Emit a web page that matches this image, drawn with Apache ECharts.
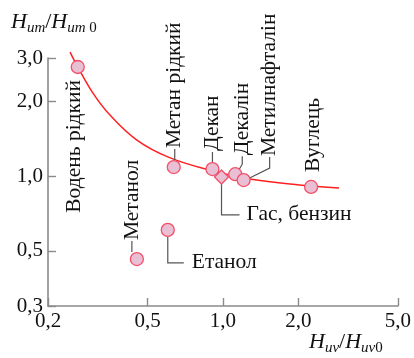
<!DOCTYPE html>
<html><head><meta charset="utf-8">
<script src="https://cdn.jsdelivr.net/npm/echarts@6/dist/echarts.min.js"></script>
<style>html,body{margin:0;padding:0;background:#fff}#c{width:414px;height:358px}</style>
</head><body><div id="c"></div>
<script>
// ---- data ----
const substances = ['Водень рідкий','Метанол','Етанол','Метан рідкий','Декан','Гас, бензин','Декалін','Метилнафталін','Вуглець'];
const xValues = [0.263, 0.453, 0.602, 0.636, 0.908, 0.987, 1.12, 1.21, 2.25];
const yValues = [2.76, 0.464, 0.608, 1.09, 1.07, 0.994, 1.02, 0.966, 0.906];
const curveX = [0.245, 0.263, 0.302, 0.353, 0.453, 0.612, 0.917, 1.28, 2.02, 2.91];
const curveY = [3.17, 2.76, 2.17, 1.77, 1.40, 1.19, 1.05, 0.975, 0.923, 0.897];
const xTicks = [0.2, 0.5, 1, 2, 5];
const yTicks = [0.3, 0.5, 1, 2, 3];

// ---- styling / annotation layout (pixel offsets relative to each point) ----
const FONT = 'Liberation Serif';
const LABEL_SIZE = 21.5;
const markerShape = {'Гас, бензин': 'diamond'};
const annot = {
  'Водень рідкий': {dx:-3, dy:13, rot:90, align:'right'},
  'Метанол':       {dx:-5, dy:-19, rot:90, leader:[[-5,-7],[-5,-18]]},
  'Етанол':        {dx:24, dy:32, rot:0, leader:[[0,7],[0,33],[16,33]]},
  'Метан рідкий':  {dx:1, dy:-19, rot:90, leader:[[1,-7],[1,-18]]},
  'Декан':         {dx:0, dy:-18, rot:90, leader:[[0,-7],[0,-17]]},
  'Гас, бензин':   {dx:25, dy:37, rot:0, leader:[[0,7],[0,38],[18,38]]},
  'Декалін':       {dx:7, dy:-19, rot:90, leader:[[4,-5],[7,-10],[7,-18]]},
  'Метилнафталін': {dx:26, dy:-24, rot:90, leader:[[6,-2],[26,-12],[26,-23]]},
  'Вуглець':       {dx:2, dy:-15, rot:90}
};

const fmt = v => (Math.round(v*10)/10).toFixed(1).replace('.', ',');

const chart = echarts.init(document.getElementById('c'), null, {renderer:'canvas'});

const axisCommon = {
  type: 'log', logBase: 10,
  axisLine: {show:true, lineStyle:{color:'#8a8a8a', width:1.6}},
  axisTick: {show:true, inside:true, length:8, lineStyle:{color:'#8a8a8a', width:1.4}},
  splitLine: {show:false},
  minorTick: {show:false},
  axisLabel: {color:'#111', fontFamily: FONT, fontSize: 21, formatter: fmt}
};

const titleRich = {
  i: {fontFamily: FONT, fontStyle:'italic', fontSize:22, lineHeight:28, verticalAlign:'middle', fill:'#111'},
  n: {fontFamily: FONT, fontSize:22, lineHeight:28, verticalAlign:'middle', fill:'#111'},
  s: {fontFamily: FONT, fontStyle:'italic', fontSize:15, lineHeight:28, verticalAlign:'bottom', fill:'#111'},
  z: {fontFamily: FONT, fontSize:15, lineHeight:28, verticalAlign:'bottom', fill:'#111'}
};

chart.setOption({
  animation: false,
  backgroundColor: '#fff',
  grid: {left:48, right:15, top:58, bottom:52, containLabel:false},
  xAxis: Object.assign({}, axisCommon, {
    min: 0.2, max: 5,
    axisTick: Object.assign({}, axisCommon.axisTick, {customValues: xTicks}),
    axisLabel: Object.assign({}, axisCommon.axisLabel, {customValues: xTicks, margin: 5})
  }),
  yAxis: Object.assign({}, axisCommon, {
    min: 0.3, max: 3,
    axisTick: Object.assign({}, axisCommon.axisTick, {customValues: yTicks}),
    axisLabel: Object.assign({}, axisCommon.axisLabel, {customValues: yTicks, margin: 5})
  }),
  graphic: [
    {type:'text', left: 11, top: 11, style:{text:'{i|H}{s|um}{n|/}{i|H}{s|um}{z| 0}', rich: titleRich}},
    {type:'text', left: 309, top: 331, style:{text:'{i|H}{s|uv}{n|/}{i|H}{s|uv}{z|0}', rich: titleRich}}
  ],
  series: [
    {
      type: 'line', smooth: 0.4, showSymbol: false, clip: false, z: 2,
      lineStyle: {color:'#ff2020', width:1.5},
      data: curveX.map((x, k) => [x, curveY[k]])
    },
    {
      type: 'custom', clip: false, z: 3, silent: true,
      encode: {x:0, y:1},
      data: substances.map((n, k) => [xValues[k], yValues[k], k]),
      renderItem: function (params, api) {
        const k = api.value(2);
        const name = substances[k];
        const a = annot[name];
        const p = api.coord([api.value(0), api.value(1)]);
        const children = [];
        if (a.leader) {
          children.push({type:'polyline', shape:{points: a.leader.map(o => [p[0]+o[0], p[1]+o[1]])},
            style:{stroke:'#555', lineWidth:1.2, fill:null}});
        }
        children.push({type:'text', x: p[0]+a.dx, y: p[1]+a.dy, rotation: a.rot*Math.PI/180,
          style:{text: name, fill:'#111', fontFamily: FONT, fontSize: LABEL_SIZE, align: a.align || 'left', verticalAlign:'middle'}});
        return {type:'group', children};
      }
    },
    {
      type: 'scatter', z: 4, clip: false,
      itemStyle: {color:'#e9bfd3', borderColor:'#f2506a', borderWidth:1.3, opacity:1},
      data: substances.map((n, k) => ({
        value: [xValues[k], yValues[k]],
        symbol: markerShape[n] || 'circle',
        symbolSize: markerShape[n] ? 14 : 13
      }))
    }
  ]
});
</script></body></html>
